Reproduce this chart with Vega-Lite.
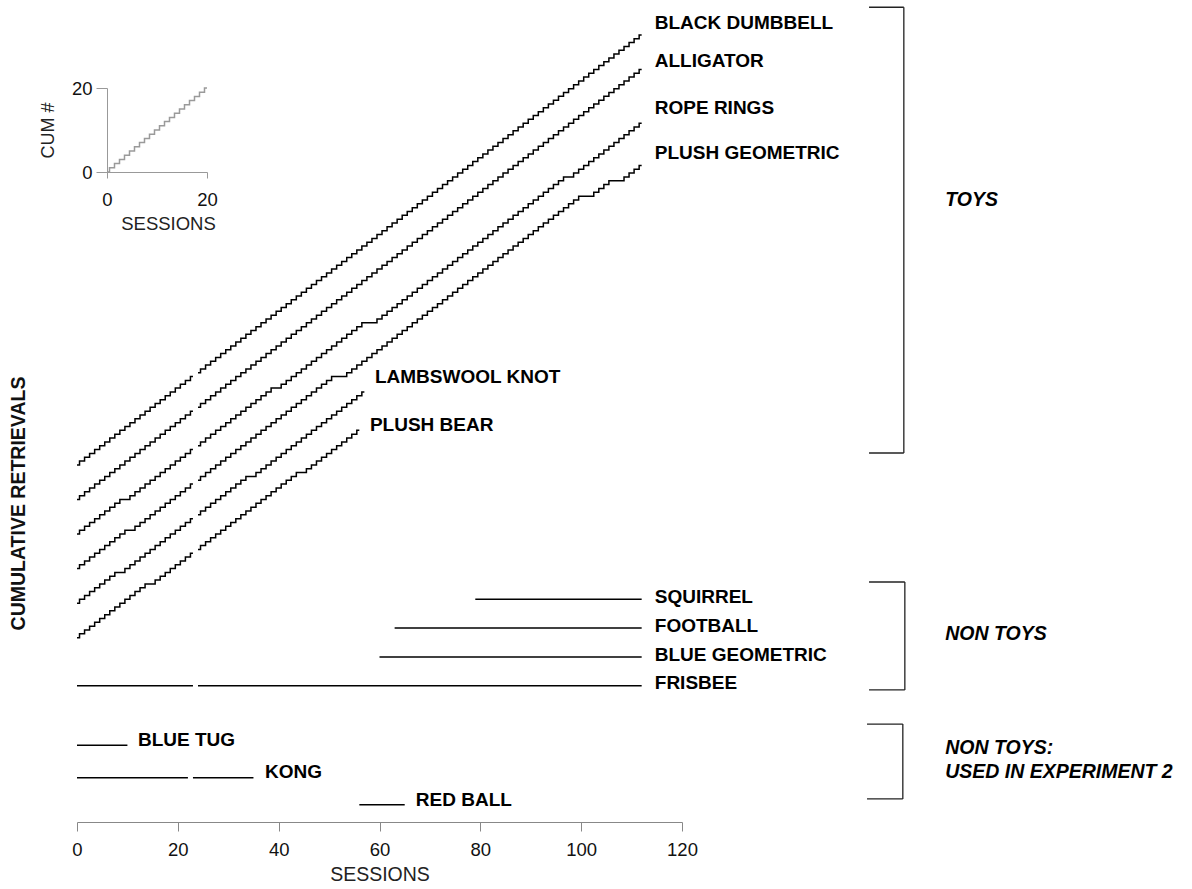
{
"$schema": "https://vega.github.io/schema/vega-lite/v6.json",
"width": 605,
"height": 814,
"autosize": {"type": "none"},
"padding": {"left": 77, "top": 8, "right": 510, "bottom": 67},
"background": "white",
"config": {"view": {"stroke": null}, "font": "Liberation Sans", "axis": {"grid": false}},
"datasets": {
"retrievals": [
{"i":"BD","s":0,"n":93},{"i":"BD","s":1,"n":94},{"i":"BD","s":2,"n":95},{"i":"BD","s":3,"n":96},{"i":"BD","s":4,"n":97},{"i":"BD","s":5,"n":98},{"i":"BD","s":6,"n":99},{"i":"BD","s":7,"n":100},{"i":"BD","s":8,"n":101},{"i":"BD","s":9,"n":102},{"i":"BD","s":10,"n":103},{"i":"BD","s":11,"n":104},{"i":"BD","s":12,"n":105},{"i":"BD","s":13,"n":106},{"i":"BD","s":14,"n":107},{"i":"BD","s":15,"n":108},{"i":"BD","s":16,"n":109},{"i":"BD","s":17,"n":110},{"i":"BD","s":18,"n":111},{"i":"BD","s":19,"n":112},{"i":"BD","s":20,"n":113},{"i":"BD","s":21,"n":114},{"i":"BD","s":22,"n":115},{"i":"BD","s":23,"n":116},{"i":"BD","s":23.5,"n":null},
{"i":"BD","s":24,"n":117},{"i":"BD","s":25,"n":118},{"i":"BD","s":26,"n":119},{"i":"BD","s":27,"n":120},{"i":"BD","s":28,"n":121},{"i":"BD","s":29,"n":122},{"i":"BD","s":30,"n":123},{"i":"BD","s":31,"n":124},{"i":"BD","s":32,"n":125},{"i":"BD","s":33,"n":126},{"i":"BD","s":34,"n":127},{"i":"BD","s":35,"n":128},{"i":"BD","s":36,"n":129},{"i":"BD","s":37,"n":130},{"i":"BD","s":38,"n":131},{"i":"BD","s":39,"n":132},{"i":"BD","s":40,"n":133},{"i":"BD","s":41,"n":134},{"i":"BD","s":42,"n":135},{"i":"BD","s":43,"n":136},{"i":"BD","s":44,"n":137},{"i":"BD","s":45,"n":138},{"i":"BD","s":46,"n":139},{"i":"BD","s":47,"n":140},{"i":"BD","s":48,"n":141},{"i":"BD","s":49,"n":142},{"i":"BD","s":50,"n":143},{"i":"BD","s":51,"n":144},{"i":"BD","s":52,"n":145},{"i":"BD","s":53,"n":146},{"i":"BD","s":54,"n":147},{"i":"BD","s":55,"n":148},{"i":"BD","s":56,"n":149},{"i":"BD","s":57,"n":150},{"i":"BD","s":58,"n":151},{"i":"BD","s":59,"n":152},{"i":"BD","s":60,"n":153},{"i":"BD","s":61,"n":154},{"i":"BD","s":62,"n":155},{"i":"BD","s":63,"n":156},{"i":"BD","s":64,"n":157},{"i":"BD","s":65,"n":158},{"i":"BD","s":66,"n":159},{"i":"BD","s":67,"n":160},{"i":"BD","s":68,"n":161},{"i":"BD","s":69,"n":162},{"i":"BD","s":70,"n":163},{"i":"BD","s":71,"n":164},{"i":"BD","s":72,"n":165},{"i":"BD","s":73,"n":166},{"i":"BD","s":74,"n":167},{"i":"BD","s":75,"n":168},{"i":"BD","s":76,"n":169},{"i":"BD","s":77,"n":170},{"i":"BD","s":78,"n":171},{"i":"BD","s":79,"n":172},{"i":"BD","s":80,"n":173},{"i":"BD","s":81,"n":174},{"i":"BD","s":82,"n":175},{"i":"BD","s":83,"n":176},{"i":"BD","s":84,"n":177},{"i":"BD","s":85,"n":178},{"i":"BD","s":86,"n":179},{"i":"BD","s":87,"n":180},{"i":"BD","s":88,"n":181},{"i":"BD","s":89,"n":182},{"i":"BD","s":90,"n":183},{"i":"BD","s":91,"n":184},{"i":"BD","s":92,"n":185},{"i":"BD","s":93,"n":186},{"i":"BD","s":94,"n":187},{"i":"BD","s":95,"n":188},{"i":"BD","s":96,"n":189},{"i":"BD","s":97,"n":190},{"i":"BD","s":98,"n":191},{"i":"BD","s":99,"n":192},{"i":"BD","s":100,"n":193},{"i":"BD","s":101,"n":194},{"i":"BD","s":102,"n":195},{"i":"BD","s":103,"n":196},{"i":"BD","s":104,"n":197},{"i":"BD","s":105,"n":198},{"i":"BD","s":106,"n":199},{"i":"BD","s":107,"n":200},{"i":"BD","s":108,"n":201},{"i":"BD","s":109,"n":202},{"i":"BD","s":110,"n":203},{"i":"BD","s":111,"n":204},{"i":"BD","s":112,"n":205},
{"i":"AL","s":0,"n":84},{"i":"AL","s":1,"n":85},{"i":"AL","s":2,"n":86},{"i":"AL","s":3,"n":87},{"i":"AL","s":4,"n":88},{"i":"AL","s":5,"n":89},{"i":"AL","s":6,"n":90},{"i":"AL","s":7,"n":91},{"i":"AL","s":8,"n":92},{"i":"AL","s":9,"n":93},{"i":"AL","s":10,"n":94},{"i":"AL","s":11,"n":95},{"i":"AL","s":12,"n":96},{"i":"AL","s":13,"n":97},{"i":"AL","s":14,"n":98},{"i":"AL","s":15,"n":99},{"i":"AL","s":16,"n":100},{"i":"AL","s":17,"n":101},{"i":"AL","s":18,"n":102},{"i":"AL","s":19,"n":103},{"i":"AL","s":20,"n":104},{"i":"AL","s":21,"n":105},{"i":"AL","s":22,"n":106},{"i":"AL","s":23,"n":107},{"i":"AL","s":23.5,"n":null},
{"i":"AL","s":24,"n":108},{"i":"AL","s":25,"n":109},{"i":"AL","s":26,"n":110},{"i":"AL","s":27,"n":111},{"i":"AL","s":28,"n":112},{"i":"AL","s":29,"n":113},{"i":"AL","s":30,"n":114},{"i":"AL","s":31,"n":115},{"i":"AL","s":32,"n":116},{"i":"AL","s":33,"n":117},{"i":"AL","s":34,"n":118},{"i":"AL","s":35,"n":119},{"i":"AL","s":36,"n":120},{"i":"AL","s":37,"n":121},{"i":"AL","s":38,"n":122},{"i":"AL","s":39,"n":123},{"i":"AL","s":40,"n":124},{"i":"AL","s":41,"n":125},{"i":"AL","s":42,"n":126},{"i":"AL","s":43,"n":127},{"i":"AL","s":44,"n":128},{"i":"AL","s":45,"n":129},{"i":"AL","s":46,"n":130},{"i":"AL","s":47,"n":131},{"i":"AL","s":48,"n":132},{"i":"AL","s":49,"n":133},{"i":"AL","s":50,"n":134},{"i":"AL","s":51,"n":135},{"i":"AL","s":52,"n":136},{"i":"AL","s":53,"n":137},{"i":"AL","s":54,"n":138},{"i":"AL","s":55,"n":139},{"i":"AL","s":56,"n":140},{"i":"AL","s":57,"n":141},{"i":"AL","s":58,"n":142},{"i":"AL","s":59,"n":143},{"i":"AL","s":60,"n":144},{"i":"AL","s":61,"n":145},{"i":"AL","s":62,"n":146},{"i":"AL","s":63,"n":147},{"i":"AL","s":64,"n":148},{"i":"AL","s":65,"n":149},{"i":"AL","s":66,"n":150},{"i":"AL","s":67,"n":151},{"i":"AL","s":68,"n":152},{"i":"AL","s":69,"n":153},{"i":"AL","s":70,"n":154},{"i":"AL","s":71,"n":155},{"i":"AL","s":72,"n":156},{"i":"AL","s":73,"n":157},{"i":"AL","s":74,"n":158},{"i":"AL","s":75,"n":159},{"i":"AL","s":76,"n":160},{"i":"AL","s":77,"n":161},{"i":"AL","s":78,"n":162},{"i":"AL","s":79,"n":163},{"i":"AL","s":80,"n":164},{"i":"AL","s":81,"n":165},{"i":"AL","s":82,"n":166},{"i":"AL","s":83,"n":167},{"i":"AL","s":84,"n":168},{"i":"AL","s":85,"n":169},{"i":"AL","s":86,"n":170},{"i":"AL","s":87,"n":171},{"i":"AL","s":88,"n":172},{"i":"AL","s":89,"n":173},{"i":"AL","s":90,"n":174},{"i":"AL","s":91,"n":175},{"i":"AL","s":92,"n":176},{"i":"AL","s":93,"n":177},{"i":"AL","s":94,"n":178},{"i":"AL","s":95,"n":179},{"i":"AL","s":96,"n":180},{"i":"AL","s":97,"n":181},{"i":"AL","s":98,"n":182},{"i":"AL","s":99,"n":183},{"i":"AL","s":100,"n":184},{"i":"AL","s":101,"n":185},{"i":"AL","s":102,"n":186},{"i":"AL","s":103,"n":187},{"i":"AL","s":104,"n":188},{"i":"AL","s":105,"n":189},{"i":"AL","s":106,"n":190},{"i":"AL","s":107,"n":191},{"i":"AL","s":108,"n":192},{"i":"AL","s":109,"n":193},{"i":"AL","s":110,"n":194},{"i":"AL","s":111,"n":195},{"i":"AL","s":112,"n":196},
{"i":"RR","s":0,"n":75},{"i":"RR","s":1,"n":76},{"i":"RR","s":2,"n":77},{"i":"RR","s":3,"n":78},{"i":"RR","s":4,"n":79},{"i":"RR","s":5,"n":80},{"i":"RR","s":6,"n":81},{"i":"RR","s":7,"n":82},{"i":"RR","s":8,"n":83},{"i":"RR","s":9,"n":84},{"i":"RR","s":10,"n":84},{"i":"RR","s":11,"n":85},{"i":"RR","s":12,"n":86},{"i":"RR","s":13,"n":87},{"i":"RR","s":14,"n":88},{"i":"RR","s":15,"n":89},{"i":"RR","s":16,"n":90},{"i":"RR","s":17,"n":91},{"i":"RR","s":18,"n":92},{"i":"RR","s":19,"n":93},{"i":"RR","s":20,"n":94},{"i":"RR","s":21,"n":95},{"i":"RR","s":22,"n":96},{"i":"RR","s":23,"n":97},{"i":"RR","s":23.5,"n":null},
{"i":"RR","s":24,"n":98},{"i":"RR","s":25,"n":99},{"i":"RR","s":26,"n":100},{"i":"RR","s":27,"n":101},{"i":"RR","s":28,"n":102},{"i":"RR","s":29,"n":103},{"i":"RR","s":30,"n":104},{"i":"RR","s":31,"n":105},{"i":"RR","s":32,"n":106},{"i":"RR","s":33,"n":107},{"i":"RR","s":34,"n":108},{"i":"RR","s":35,"n":109},{"i":"RR","s":36,"n":110},{"i":"RR","s":37,"n":111},{"i":"RR","s":38,"n":112},{"i":"RR","s":39,"n":113},{"i":"RR","s":40,"n":113},{"i":"RR","s":41,"n":114},{"i":"RR","s":42,"n":115},{"i":"RR","s":43,"n":116},{"i":"RR","s":44,"n":117},{"i":"RR","s":45,"n":118},{"i":"RR","s":46,"n":119},{"i":"RR","s":47,"n":120},{"i":"RR","s":48,"n":121},{"i":"RR","s":49,"n":122},{"i":"RR","s":50,"n":123},{"i":"RR","s":51,"n":124},{"i":"RR","s":52,"n":125},{"i":"RR","s":53,"n":126},{"i":"RR","s":54,"n":127},{"i":"RR","s":55,"n":128},{"i":"RR","s":56,"n":129},{"i":"RR","s":57,"n":130},{"i":"RR","s":58,"n":130},{"i":"RR","s":59,"n":130},{"i":"RR","s":60,"n":131},{"i":"RR","s":61,"n":132},{"i":"RR","s":62,"n":133},{"i":"RR","s":63,"n":134},{"i":"RR","s":64,"n":135},{"i":"RR","s":65,"n":136},{"i":"RR","s":66,"n":137},{"i":"RR","s":67,"n":138},{"i":"RR","s":68,"n":139},{"i":"RR","s":69,"n":140},{"i":"RR","s":70,"n":141},{"i":"RR","s":71,"n":142},{"i":"RR","s":72,"n":143},{"i":"RR","s":73,"n":144},{"i":"RR","s":74,"n":145},{"i":"RR","s":75,"n":146},{"i":"RR","s":76,"n":147},{"i":"RR","s":77,"n":148},{"i":"RR","s":78,"n":149},{"i":"RR","s":79,"n":150},{"i":"RR","s":80,"n":151},{"i":"RR","s":81,"n":152},{"i":"RR","s":82,"n":153},{"i":"RR","s":83,"n":154},{"i":"RR","s":84,"n":155},{"i":"RR","s":85,"n":156},{"i":"RR","s":86,"n":157},{"i":"RR","s":87,"n":158},{"i":"RR","s":88,"n":159},{"i":"RR","s":89,"n":160},{"i":"RR","s":90,"n":161},{"i":"RR","s":91,"n":162},{"i":"RR","s":92,"n":163},{"i":"RR","s":93,"n":164},{"i":"RR","s":94,"n":165},{"i":"RR","s":95,"n":166},{"i":"RR","s":96,"n":167},{"i":"RR","s":97,"n":168},{"i":"RR","s":98,"n":168},{"i":"RR","s":99,"n":169},{"i":"RR","s":100,"n":170},{"i":"RR","s":101,"n":171},{"i":"RR","s":102,"n":172},{"i":"RR","s":103,"n":173},{"i":"RR","s":104,"n":174},{"i":"RR","s":105,"n":175},{"i":"RR","s":106,"n":176},{"i":"RR","s":107,"n":177},{"i":"RR","s":108,"n":178},{"i":"RR","s":109,"n":179},{"i":"RR","s":110,"n":180},{"i":"RR","s":111,"n":181},{"i":"RR","s":112,"n":182},
{"i":"PG","s":0,"n":66},{"i":"PG","s":1,"n":67},{"i":"PG","s":2,"n":68},{"i":"PG","s":3,"n":69},{"i":"PG","s":4,"n":70},{"i":"PG","s":5,"n":71},{"i":"PG","s":6,"n":72},{"i":"PG","s":7,"n":73},{"i":"PG","s":8,"n":74},{"i":"PG","s":9,"n":75},{"i":"PG","s":10,"n":76},{"i":"PG","s":11,"n":76},{"i":"PG","s":12,"n":77},{"i":"PG","s":13,"n":78},{"i":"PG","s":14,"n":79},{"i":"PG","s":15,"n":80},{"i":"PG","s":16,"n":81},{"i":"PG","s":17,"n":82},{"i":"PG","s":18,"n":83},{"i":"PG","s":19,"n":84},{"i":"PG","s":20,"n":85},{"i":"PG","s":21,"n":86},{"i":"PG","s":22,"n":87},{"i":"PG","s":23,"n":88},{"i":"PG","s":23.5,"n":null},
{"i":"PG","s":24,"n":89},{"i":"PG","s":25,"n":90},{"i":"PG","s":26,"n":91},{"i":"PG","s":27,"n":92},{"i":"PG","s":28,"n":93},{"i":"PG","s":29,"n":94},{"i":"PG","s":30,"n":95},{"i":"PG","s":31,"n":96},{"i":"PG","s":32,"n":97},{"i":"PG","s":33,"n":98},{"i":"PG","s":34,"n":99},{"i":"PG","s":35,"n":100},{"i":"PG","s":36,"n":101},{"i":"PG","s":37,"n":102},{"i":"PG","s":38,"n":103},{"i":"PG","s":39,"n":104},{"i":"PG","s":40,"n":105},{"i":"PG","s":41,"n":106},{"i":"PG","s":42,"n":107},{"i":"PG","s":43,"n":108},{"i":"PG","s":44,"n":109},{"i":"PG","s":45,"n":110},{"i":"PG","s":46,"n":111},{"i":"PG","s":47,"n":112},{"i":"PG","s":48,"n":113},{"i":"PG","s":49,"n":114},{"i":"PG","s":50,"n":115},{"i":"PG","s":51,"n":116},{"i":"PG","s":52,"n":116},{"i":"PG","s":53,"n":116},{"i":"PG","s":54,"n":117},{"i":"PG","s":55,"n":118},{"i":"PG","s":56,"n":119},{"i":"PG","s":57,"n":120},{"i":"PG","s":58,"n":121},{"i":"PG","s":59,"n":122},{"i":"PG","s":60,"n":123},{"i":"PG","s":61,"n":124},{"i":"PG","s":62,"n":125},{"i":"PG","s":63,"n":126},{"i":"PG","s":64,"n":127},{"i":"PG","s":65,"n":128},{"i":"PG","s":66,"n":129},{"i":"PG","s":67,"n":130},{"i":"PG","s":68,"n":131},{"i":"PG","s":69,"n":132},{"i":"PG","s":70,"n":133},{"i":"PG","s":71,"n":134},{"i":"PG","s":72,"n":135},{"i":"PG","s":73,"n":136},{"i":"PG","s":74,"n":137},{"i":"PG","s":75,"n":138},{"i":"PG","s":76,"n":139},{"i":"PG","s":77,"n":140},{"i":"PG","s":78,"n":141},{"i":"PG","s":79,"n":142},{"i":"PG","s":80,"n":143},{"i":"PG","s":81,"n":144},{"i":"PG","s":82,"n":145},{"i":"PG","s":83,"n":146},{"i":"PG","s":84,"n":147},{"i":"PG","s":85,"n":148},{"i":"PG","s":86,"n":149},{"i":"PG","s":87,"n":150},{"i":"PG","s":88,"n":151},{"i":"PG","s":89,"n":152},{"i":"PG","s":90,"n":153},{"i":"PG","s":91,"n":154},{"i":"PG","s":92,"n":155},{"i":"PG","s":93,"n":156},{"i":"PG","s":94,"n":157},{"i":"PG","s":95,"n":158},{"i":"PG","s":96,"n":159},{"i":"PG","s":97,"n":160},{"i":"PG","s":98,"n":161},{"i":"PG","s":99,"n":162},{"i":"PG","s":100,"n":163},{"i":"PG","s":101,"n":163},{"i":"PG","s":102,"n":163},{"i":"PG","s":103,"n":164},{"i":"PG","s":104,"n":165},{"i":"PG","s":105,"n":166},{"i":"PG","s":106,"n":167},{"i":"PG","s":107,"n":167},{"i":"PG","s":108,"n":167},{"i":"PG","s":109,"n":168},{"i":"PG","s":110,"n":169},{"i":"PG","s":111,"n":170},{"i":"PG","s":112,"n":171},
{"i":"LK","s":0,"n":57},{"i":"LK","s":1,"n":58},{"i":"LK","s":2,"n":59},{"i":"LK","s":3,"n":60},{"i":"LK","s":4,"n":61},{"i":"LK","s":5,"n":62},{"i":"LK","s":6,"n":63},{"i":"LK","s":7,"n":64},{"i":"LK","s":8,"n":65},{"i":"LK","s":9,"n":65},{"i":"LK","s":10,"n":66},{"i":"LK","s":11,"n":67},{"i":"LK","s":12,"n":68},{"i":"LK","s":13,"n":69},{"i":"LK","s":14,"n":70},{"i":"LK","s":15,"n":71},{"i":"LK","s":16,"n":72},{"i":"LK","s":17,"n":73},{"i":"LK","s":18,"n":74},{"i":"LK","s":19,"n":75},{"i":"LK","s":20,"n":76},{"i":"LK","s":21,"n":77},{"i":"LK","s":22,"n":78},{"i":"LK","s":23,"n":79},{"i":"LK","s":23.5,"n":null},
{"i":"LK","s":24,"n":80},{"i":"LK","s":25,"n":81},{"i":"LK","s":26,"n":82},{"i":"LK","s":27,"n":83},{"i":"LK","s":28,"n":84},{"i":"LK","s":29,"n":85},{"i":"LK","s":30,"n":86},{"i":"LK","s":31,"n":87},{"i":"LK","s":32,"n":88},{"i":"LK","s":33,"n":89},{"i":"LK","s":34,"n":90},{"i":"LK","s":35,"n":90},{"i":"LK","s":36,"n":91},{"i":"LK","s":37,"n":92},{"i":"LK","s":38,"n":93},{"i":"LK","s":39,"n":94},{"i":"LK","s":40,"n":95},{"i":"LK","s":41,"n":96},{"i":"LK","s":42,"n":97},{"i":"LK","s":43,"n":98},{"i":"LK","s":44,"n":99},{"i":"LK","s":45,"n":100},{"i":"LK","s":46,"n":101},{"i":"LK","s":47,"n":102},{"i":"LK","s":48,"n":103},{"i":"LK","s":49,"n":104},{"i":"LK","s":50,"n":105},{"i":"LK","s":51,"n":106},{"i":"LK","s":52,"n":107},{"i":"LK","s":53,"n":108},{"i":"LK","s":54,"n":109},{"i":"LK","s":55,"n":110},{"i":"LK","s":56,"n":111},{"i":"LK","s":57,"n":112},
{"i":"PB","s":0,"n":48},{"i":"PB","s":1,"n":49},{"i":"PB","s":2,"n":50},{"i":"PB","s":3,"n":51},{"i":"PB","s":4,"n":52},{"i":"PB","s":5,"n":53},{"i":"PB","s":6,"n":54},{"i":"PB","s":7,"n":55},{"i":"PB","s":8,"n":56},{"i":"PB","s":9,"n":57},{"i":"PB","s":10,"n":58},{"i":"PB","s":11,"n":59},{"i":"PB","s":12,"n":60},{"i":"PB","s":13,"n":61},{"i":"PB","s":14,"n":62},{"i":"PB","s":15,"n":62},{"i":"PB","s":16,"n":63},{"i":"PB","s":17,"n":64},{"i":"PB","s":18,"n":65},{"i":"PB","s":19,"n":66},{"i":"PB","s":20,"n":67},{"i":"PB","s":21,"n":68},{"i":"PB","s":22,"n":69},{"i":"PB","s":23,"n":70},{"i":"PB","s":23.5,"n":null},
{"i":"PB","s":24,"n":71},{"i":"PB","s":25,"n":72},{"i":"PB","s":26,"n":73},{"i":"PB","s":27,"n":74},{"i":"PB","s":28,"n":75},{"i":"PB","s":29,"n":76},{"i":"PB","s":30,"n":77},{"i":"PB","s":31,"n":78},{"i":"PB","s":32,"n":79},{"i":"PB","s":33,"n":80},{"i":"PB","s":34,"n":81},{"i":"PB","s":35,"n":82},{"i":"PB","s":36,"n":83},{"i":"PB","s":37,"n":84},{"i":"PB","s":38,"n":85},{"i":"PB","s":39,"n":86},{"i":"PB","s":40,"n":87},{"i":"PB","s":41,"n":88},{"i":"PB","s":42,"n":89},{"i":"PB","s":43,"n":90},{"i":"PB","s":44,"n":91},{"i":"PB","s":45,"n":91},{"i":"PB","s":46,"n":92},{"i":"PB","s":47,"n":93},{"i":"PB","s":48,"n":94},{"i":"PB","s":49,"n":95},{"i":"PB","s":50,"n":96},{"i":"PB","s":51,"n":97},{"i":"PB","s":52,"n":98},{"i":"PB","s":53,"n":99},{"i":"PB","s":54,"n":100},{"i":"PB","s":55,"n":101},{"i":"PB","s":56,"n":102},
{"i":"SQ","s":79,"n":58},{"i":"SQ","s":112,"n":58},
{"i":"FB","s":63,"n":50.5},{"i":"FB","s":112,"n":50.5},
{"i":"BG","s":60,"n":43},{"i":"BG","s":112,"n":43},
{"i":"FR","s":0,"n":35.5},{"i":"FR","s":23,"n":35.5},{"i":"FR","s":23.5,"n":null},{"i":"FR","s":24,"n":35.5},{"i":"FR","s":112,"n":35.5},
{"i":"BT","s":0,"n":20},{"i":"BT","s":10,"n":20},
{"i":"KG","s":0,"n":11.5},{"i":"KG","s":22,"n":11.5},{"i":"KG","s":22.5,"n":null},{"i":"KG","s":23,"n":11.5},{"i":"KG","s":35,"n":11.5},
{"i":"RB","s":56,"n":4.5},{"i":"RB","s":65,"n":4.5}
],
"itemLabels": [
{"label":"BLACK DUMBBELL","s":114.6,"n":208.2},
{"label":"ALLIGATOR","s":114.6,"n":198.3},
{"label":"ROPE RINGS","s":114.6,"n":185.9},
{"label":"PLUSH GEOMETRIC","s":114.6,"n":174.2},
{"label":"LAMBSWOOL KNOT","s":59.1,"n":115.8},
{"label":"PLUSH BEAR","s":58.1,"n":103.3},
{"label":"SQUIRREL","s":114.6,"n":58.6},
{"label":"FOOTBALL","s":114.6,"n":51.0},
{"label":"BLUE GEOMETRIC","s":114.6,"n":43.5},
{"label":"FRISBEE","s":114.6,"n":36.2},
{"label":"BLUE TUG","s":12.1,"n":21.4},
{"label":"KONG","s":37.3,"n":13.0},
{"label":"RED BALL","s":67.2,"n":5.7}
],
"groupLabels": [
{"label":"TOYS","s":172.2,"n":162.0},
{"label":"NON TOYS","s":172.2,"n":49.0},
{"label":"NON TOYS:\nUSED IN EXPERIMENT 2","s":172.2,"n":19.3}
],
"brackets": [
{"group":"TOYS","s1":157.1,"s2":164.0,"top":212.2,"bottom":96.1},
{"group":"NON TOYS","s1":157.1,"s2":164.2,"top":62.5,"bottom":34.4},
{"group":"NON TOYS: USED IN EXPERIMENT 2","s1":156.7,"s2":163.8,"top":25.5,"bottom":6.0}
],
"inset": [
{"s":0,"n":0},{"s":1,"n":1},{"s":2,"n":2},{"s":3,"n":3},{"s":4,"n":4},{"s":5,"n":5},{"s":6,"n":6},{"s":7,"n":7},{"s":8,"n":8},{"s":9,"n":9},{"s":10,"n":10},{"s":11,"n":11},{"s":12,"n":12},{"s":13,"n":13},{"s":14,"n":14},{"s":15,"n":15},{"s":16,"n":16},{"s":17,"n":17},{"s":18,"n":18},{"s":19,"n":19},{"s":20,"n":20}
]
},
"layer": [
{
"layer": [
{
"data": {"name": "retrievals"},
"mark": {"type": "line", "interpolate": "step", "color": "black", "strokeWidth": 1.5},
"encoding": {
"x": {"field": "s", "type": "quantitative", "scale": {"domain": [0, 120], "nice": false},
"axis": {"orient": "bottom", "title": "SESSIONS", "values": [0, 20, 40, 60, 80, 100, 120], "labelFlush": false, "domainColor": "#888", "tickColor": "#888", "tickSize": 9, "labelFontSize": 18.5, "labelColor": "#111", "labelPadding": 9, "titleFontSize": 19.5, "titleFontWeight": "normal", "titleColor": "#222", "titlePadding": 7}},
"y": {"field": "n", "type": "quantitative", "scale": {"domain": [0, 212], "nice": false, "zero": false},
"axis": {"orient": "left", "title": "CUMULATIVE RETRIEVALS", "domain": false, "ticks": false, "labels": false, "titleFontSize": 19.5, "titleFontWeight": "bold", "titleColor": "#111", "titleX": -59, "titleY": 495, "titleAngle": 270, "titleAlign": "center", "titleBaseline": "middle"}},
"detail": {"field": "i"}
}
},
{
"data": {"name": "itemLabels"},
"mark": {"type": "text", "align": "left", "baseline": "middle", "fontWeight": "bold", "fontSize": 19, "color": "black"},
"encoding": {
"x": {"field": "s", "type": "quantitative", "scale": {"domain": [0, 120]}},
"y": {"field": "n", "type": "quantitative", "scale": {"domain": [0, 212]}},
"text": {"field": "label"}
}
},
{
"data": {"name": "groupLabels"},
"mark": {"type": "text", "align": "left", "baseline": "middle", "fontWeight": "bold", "fontStyle": "italic", "fontSize": 19.5, "color": "black", "lineBreak": "\n", "lineHeight": 24},
"encoding": {
"x": {"field": "s", "type": "quantitative", "scale": {"domain": [0, 120]}},
"y": {"field": "n", "type": "quantitative", "scale": {"domain": [0, 212]}},
"text": {"field": "label"}
}
},
{
"data": {"name": "brackets"},
"mark": {"type": "rule", "color": "#222", "strokeWidth": 1.3},
"encoding": {
"x": {"field": "s2", "type": "quantitative", "scale": {"domain": [0, 120]}},
"y": {"field": "top", "type": "quantitative", "scale": {"domain": [0, 212]}},
"y2": {"field": "bottom"}
}
},
{
"data": {"name": "brackets"},
"mark": {"type": "rule", "color": "#222", "strokeWidth": 1.3},
"encoding": {
"x": {"field": "s1", "type": "quantitative", "scale": {"domain": [0, 120]}},
"x2": {"field": "s2"},
"y": {"field": "top", "type": "quantitative", "scale": {"domain": [0, 212]}}
}
},
{
"data": {"name": "brackets"},
"mark": {"type": "rule", "color": "#222", "strokeWidth": 1.3},
"encoding": {
"x": {"field": "s1", "type": "quantitative", "scale": {"domain": [0, 120]}},
"x2": {"field": "s2"},
"y": {"field": "bottom", "type": "quantitative", "scale": {"domain": [0, 212]}}
}
}
]
},
{
"data": {"name": "inset"},
"mark": {"type": "line", "interpolate": "step", "color": "#9a9a9a", "strokeWidth": 1.5},
"encoding": {
"x": {"field": "s", "type": "quantitative", "scale": {"domain": [0, 20], "range": [30, 130], "nice": false},
"axis": {"orient": "bottom", "offset": -650, "values": [0, 20], "title": "SESSIONS", "labelFlush": false, "domainColor": "#999", "tickColor": "#999", "tickSize": 6, "labelFontSize": 18.5, "labelColor": "#111", "labelPadding": 12, "titleFontSize": 18.5, "titleFontWeight": "normal", "titleColor": "#222", "titlePadding": 6, "titleX": 91, "titleAlign": "center"}},
"y": {"field": "n", "type": "quantitative", "scale": {"domain": [0, 20], "range": [164, 80], "nice": false},
"axis": {"orient": "left", "offset": -30, "values": [0, 20], "title": "CUM #", "labelFlush": false, "domainColor": "#999", "tickColor": "#999", "tickSize": 11, "labelFontSize": 18.5, "labelColor": "#111", "labelPadding": 4, "titleFontSize": 18, "titleFontWeight": "normal", "titleColor": "#222", "titlePadding": 14}}
}
}
],
"resolve": {"scale": {"x": "independent", "y": "independent"}, "axis": {"x": "independent", "y": "independent"}}
}
